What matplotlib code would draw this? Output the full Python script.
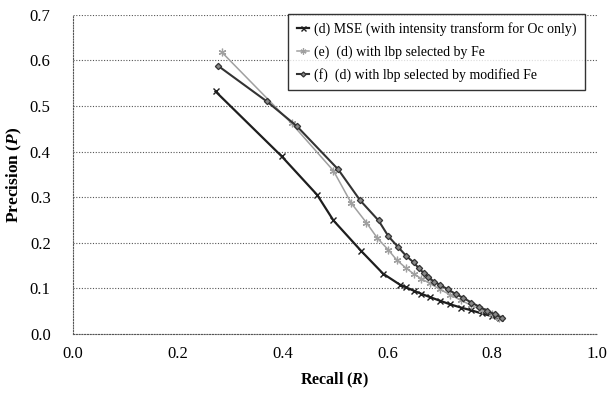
import matplotlib
matplotlib.use("Agg")
import matplotlib.pyplot as plt

plt.rcParams['font.family'] = ['Liberation Serif', 'DejaVu Serif']
plt.rcParams['mathtext.fontset'] = 'custom'
plt.rcParams['mathtext.rm'] = 'Liberation Serif'
plt.rcParams['mathtext.it'] = 'Liberation Serif:italic'
plt.rcParams['mathtext.bf'] = 'Liberation Serif:bold'
try:
    plt.rcParams['mathtext.bfit'] = 'Liberation Serif:bold:italic'
except KeyError:
    pass

# Series (d) MSE
recall_d = [0.272, 0.398, 0.466, 0.497, 0.550, 0.592, 0.624, 0.636, 0.650, 0.665,
            0.681, 0.700, 0.720, 0.740, 0.760, 0.780, 0.800, 0.815]
prec_d = [0.532, 0.390, 0.305, 0.249, 0.182, 0.132, 0.108, 0.102, 0.095, 0.088,
          0.081, 0.073, 0.065, 0.058, 0.052, 0.045, 0.039, 0.034]

# Series (e) lbp selected by Fe
recall_e = [0.284, 0.417, 0.497, 0.531, 0.560, 0.581, 0.602, 0.618, 0.635, 0.650,
            0.665, 0.681, 0.700, 0.720, 0.740, 0.760, 0.780, 0.800, 0.812]
prec_e = [0.618, 0.462, 0.358, 0.287, 0.244, 0.210, 0.184, 0.162, 0.145, 0.132,
          0.121, 0.111, 0.098, 0.086, 0.074, 0.063, 0.053, 0.043, 0.036]

# Series (f) lbp selected by modified Fe
recall_f = [0.277, 0.370, 0.427, 0.506, 0.548, 0.583, 0.602, 0.621, 0.636, 0.650,
            0.660, 0.670, 0.678, 0.688, 0.700, 0.715, 0.730, 0.745, 0.760, 0.775,
            0.790, 0.805, 0.818]
prec_f = [0.588, 0.510, 0.456, 0.361, 0.293, 0.249, 0.214, 0.190, 0.171, 0.157,
          0.144, 0.133, 0.126, 0.115, 0.108, 0.098, 0.088, 0.079, 0.069, 0.060,
          0.051, 0.043, 0.036]

labels = ["(d) MSE (with intensity transform for Oc only)",
          "(e)  (d) with lbp selected by Fe",
          "(f)  (d) with lbp selected by modified Fe"]

fig = plt.figure(figsize=(6.13, 3.96), dpi=100)
ax = fig.add_axes([0.119, 0.1566, 0.855, 0.806])

ax.plot(recall_d, prec_d, color='#1e1e1e', lw=1.6, marker='x', ms=4.5, mew=1.0,
        label=labels[0])
ax.plot(recall_e, prec_e, color='#a0a0a0', lw=1.1, marker=(6, 2, 0), ms=5.5, mew=0.9,
        label=labels[1])
ax.plot(recall_f, prec_f, color='#333333', lw=1.5, marker='D', ms=3.2, mew=0.9,
        mfc='#888888', mec='#333333', label=labels[2])

ax.set_xlim(0, 1.0)
ax.set_ylim(0, 0.7)
ax.set_xticks([0.0, 0.2, 0.4, 0.6, 0.8, 1.0])
ax.set_yticks([0.0, 0.1, 0.2, 0.3, 0.4, 0.5, 0.6, 0.7])
ax.set_xticklabels(['0.0', '0.2', '0.4', '0.6', '0.8', '1.0'])
ax.set_yticklabels(['0.0', '0.1', '0.2', '0.3', '0.4', '0.5', '0.6', '0.7'])
ax.tick_params(length=0, labelsize=12, pad=9)
ax.tick_params(axis='y', pad=16)

ax.yaxis.grid(True, linestyle=(0, (1, 1.5)), color='#555555', lw=0.8)
for s in ['top', 'right']:
    ax.spines[s].set_visible(False)
for s in ['left', 'bottom']:
    ax.spines[s].set_linestyle((0, (1, 1.5)))
    ax.spines[s].set_color('#555555')
    ax.spines[s].set_linewidth(0.8)

ax.set_xlabel(r'Recall ($\mathbfit{R}$)', fontsize=11.5, fontweight='bold', labelpad=6)
ax.set_ylabel(r'Precision ($\mathbfit{P}$)', fontsize=12.5, fontweight='bold', labelpad=4)

leg = ax.legend(loc='upper right', bbox_to_anchor=(0.977, 1.003), fontsize=10,
                frameon=True, fancybox=False, edgecolor='black', handlelength=0.9,
                handletextpad=0.35, labelspacing=0.65, borderpad=0.6, borderaxespad=0.0,
                markerscale=0.8)
leg.get_frame().set_linewidth(1.0)

fig.savefig('out.png', dpi=100)
